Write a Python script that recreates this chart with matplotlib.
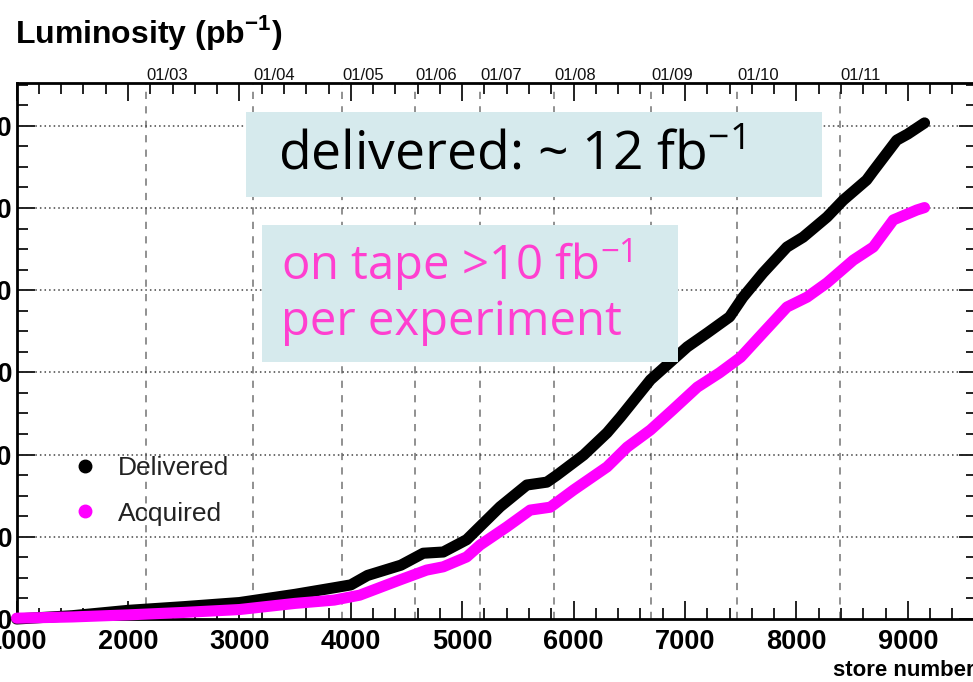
import matplotlib
matplotlib.use('Agg')
import matplotlib.pyplot as plt
from matplotlib.ticker import MultipleLocator
from matplotlib.patches import Rectangle
from matplotlib.lines import Line2D

plt.rcParams['font.family'] = ['Liberation Sans', 'DejaVu Sans']
plt.rcParams['mathtext.fontset'] = 'custom'
plt.rcParams['mathtext.rm'] = 'Open Sans'
plt.rcParams['mathtext.bf'] = 'Liberation Sans:bold'

# integrated luminosity (pb^-1) vs store number
deliv_store = [1000, 1500, 2000, 2500, 3000, 3500, 3850, 4000, 4150, 4450, 4650, 4830,
               5040, 5160, 5340, 5580, 5760, 5850, 6090, 6300, 6420, 6690, 7020, 7200,
               7400, 7520, 7700, 7915, 8060, 8275, 8420, 8630, 8690, 8900, 9000, 9150]
deliv_lumi = [0, 80, 210, 300, 400, 600, 760, 830, 1060, 1310, 1600, 1630,
              1930, 2250, 2730, 3260, 3330, 3500, 3990, 4530, 4910, 5820, 6620, 6960,
              7350, 7830, 8420, 9050, 9290, 9780, 10190, 10680, 10900, 11650, 11800, 12070]

acq_store = [1000, 1500, 2000, 2500, 3000, 3500, 3850, 4080, 4440, 4680, 4830, 5040,
             5160, 5400, 5610, 5790, 6000, 6300, 6480, 6690, 6890, 7110, 7310, 7500,
             7700, 7915, 8095, 8275, 8510, 8690, 8870, 9080, 9150]
acq_lumi = [20, 50, 100, 160, 230, 380, 460, 580, 950, 1190, 1270, 1510,
            1800, 2240, 2650, 2720, 3140, 3700, 4180, 4600, 5090, 5640, 5990, 6370,
            6960, 7590, 7830, 8180, 8730, 9050, 9710, 9950, 10010]

# calendar markers on the top axis (month/year -> store number)
date_labels = ['01/03', '01/04', '01/05', '01/06', '01/07', '01/08', '01/09', '01/10', '01/11']
date_stores = [2162, 3122, 3920, 4576, 5160, 5825, 6695, 7467, 8392]

W, H = 973, 682
fig = plt.figure(figsize=(W / 100, H / 100), dpi=100)
ax = fig.add_axes([16.6 / W, 63 / H, 960.3 / W, 536 / H])
ax.set_xlim(1000, 9620)
ax.set_ylim(0, 13041)

for s in date_stores:
    ax.axvline(s, color='#888888', lw=1.3, ls=(0, (4, 4)), zorder=1)
for y in range(2000, 13000, 2000):
    ax.axhline(y, color='#444444', lw=1.1, ls=(0, (1, 2)), zorder=1)

ax.plot(deliv_store, deliv_lumi, color='black', lw=8, solid_capstyle='round',
        solid_joinstyle='round', clip_on=False, zorder=3)
ax.plot(acq_store, acq_lumi, color='#ff00ff', lw=8, solid_capstyle='round',
        solid_joinstyle='round', clip_on=False, zorder=4)

for lab, s in zip(date_labels, date_stores):
    ax.text(s, 1.0, lab, transform=ax.get_xaxis_transform(), ha='left', va='bottom',
            fontsize=12, color='#111111')

ax.xaxis.set_major_locator(MultipleLocator(1000))
ax.xaxis.set_minor_locator(MultipleLocator(200))
ax.yaxis.set_major_locator(MultipleLocator(2000))
ax.yaxis.set_minor_locator(MultipleLocator(500))
ax.tick_params(which='both', direction='in', top=True, right=True, width=1.4, color='#222222')
ax.tick_params(which='major', length=13)
ax.tick_params(which='minor', length=8)
ax.tick_params(axis='x', which='major', pad=7)
ax.tick_params(axis='y', which='major', pad=3.3)
for lab in ax.get_xticklabels() + ax.get_yticklabels():
    lab.set_fontsize(19.5)
    lab.set_fontweight('bold')
for sp in ax.spines.values():
    sp.set_linewidth(2)

handles = [Line2D([], [], ls='none', marker='o', ms=9, color='black'),
           Line2D([], [], ls='none', marker='o', ms=9, color='#ff00ff')]
fig.legend(handles, ['Delivered', 'Acquired'], loc='upper left',
           bbox_to_anchor=(72 / W, 1 - 456 / H), frameon=False, fontsize=19,
           handlelength=1.0, handletextpad=0.75, labelspacing=0.82,
           borderpad=0, borderaxespad=0, labelcolor='#222222')

fig.text(15 / W, 1 - 43 / H, r'Luminosity (pb$^{\mathbf{-1}}$)', fontsize=23,
         fontweight='bold', va='baseline', ha='left')
fig.text(975 / W, 1 - 670 / H, 'store number', fontsize=16, fontweight='bold',
         ha='right', va='center')

box_color = '#d6eaed'
fig.add_artist(Rectangle((246 / W, 1 - 197 / H), 576 / W, 85 / H,
                         transform=fig.transFigure, color=box_color, lw=0, zorder=5))
fig.add_artist(Rectangle((262 / W, 1 - 362 / H), 416 / W, 137 / H,
                         transform=fig.transFigure, color=box_color, lw=0, zorder=5))
fig.text(278 / W, 1 - 156 / H, r'delivered: ~ 12 fb$^{\mathrm{-1}}$', family='Open Sans',
         fontsize=38.5, color='black', va='center', ha='left', zorder=6)
fig.text(281 / W, 1 - 265 / H, r'on tape >10 fb$^{\mathrm{-1}}$', family='Open Sans',
         fontsize=34, color='#ff3fd0', va='center', ha='left', zorder=6)
fig.text(281 / W, 1 - 322 / H, 'per experiment', family='Open Sans',
         fontsize=34, color='#ff3fd0', va='center', ha='left', zorder=6)

fig.savefig('out.png', dpi=100)
